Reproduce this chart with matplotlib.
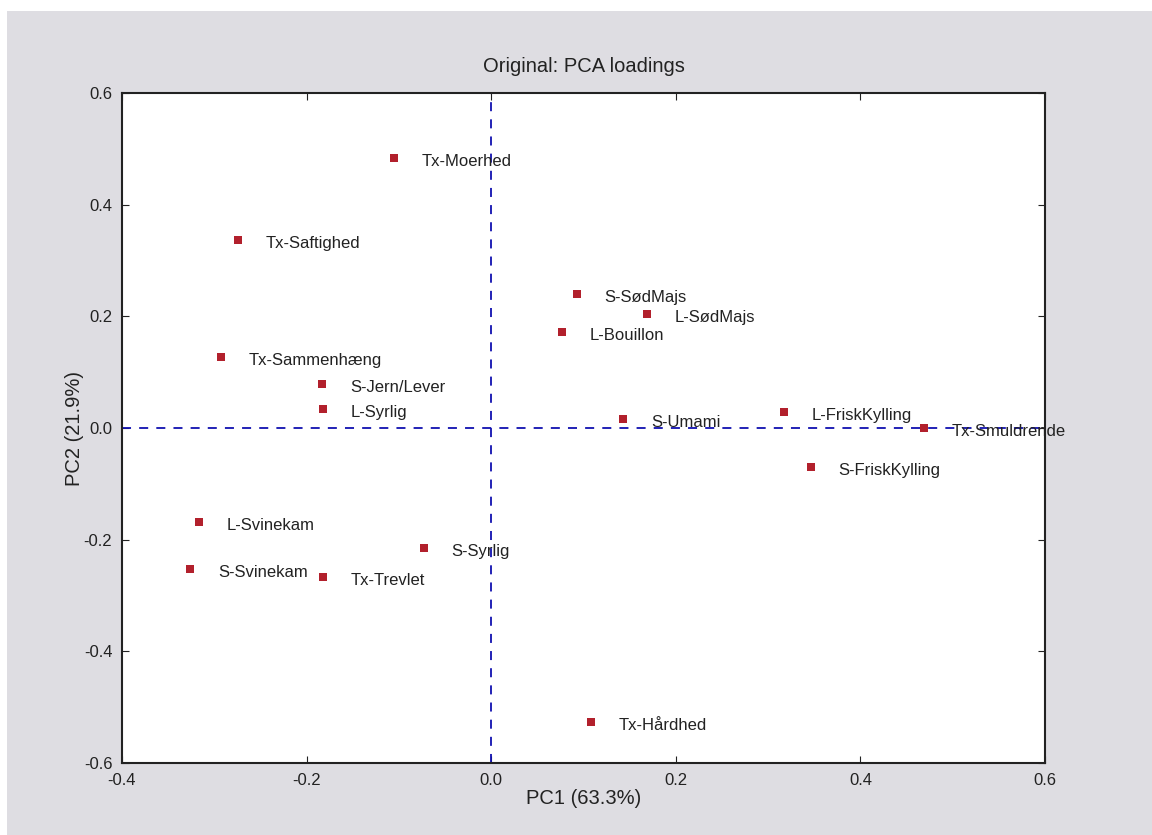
# PCA loadings plot: sensory attributes on PC1 vs PC2.
import matplotlib
matplotlib.use('Agg')
import matplotlib.pyplot as plt
from matplotlib.patches import Rectangle

plt.rcParams['font.family'] = ['Liberation Sans', 'DejaVu Sans']
plt.rcParams['axes.unicode_minus'] = False

attributes = ['Tx-Moerhed', 'Tx-Saftighed', 'S-SødMajs', 'L-SødMajs', 'L-Bouillon',
              'Tx-Sammenhæng', 'S-Jern/Lever', 'L-Syrlig', 'S-Umami', 'L-FriskKylling',
              'Tx-Smuldrende', 'S-FriskKylling', 'L-Svinekam', 'S-Syrlig', 'S-Svinekam',
              'Tx-Trevlet', 'Tx-Hårdhed']
pc1 = [-0.105, -0.274, 0.093, 0.169, 0.077, -0.293, -0.183, -0.182, 0.143, 0.317,
       0.469, 0.346, -0.317, -0.073, -0.326, -0.182, 0.108]
pc2 = [0.484, 0.337, 0.240, 0.204, 0.172, 0.127, 0.079, 0.034, 0.016, 0.029,
       0.000, -0.070, -0.168, -0.215, -0.253, -0.267, -0.527]

fig = plt.figure(figsize=(11.52, 8.35), dpi=100, facecolor='white')
# grey window background, offset from the white border
fig.patches.append(Rectangle((7 / 1152, 0), 1, 1 - 11 / 835, transform=fig.transFigure,
                             facecolor='#dedde2', edgecolor='none', zorder=-10))

ax = fig.add_axes([0.1059, 0.0862, 0.8012, 0.8024])
ax.set_facecolor('white')

ax.plot(pc1, pc2, 's', color='#b2202c', markersize=5.3, markeredgewidth=0, zorder=3)
for name, x, y in zip(attributes, pc1, pc2):
    ax.text(x + 0.03, y - 0.006, name, fontsize=12, va='center', ha='left', color='#222222')

ax.axhline(0, color='#1010b0', linestyle=(0, (5, 4.5)), linewidth=1.3, zorder=2)
ax.axvline(0, color='#1010b0', linestyle=(0, (5, 4.5)), linewidth=1.3, zorder=2)

ax.set_xlim(-0.4, 0.6)
ax.set_ylim(-0.6, 0.6)
ax.set_xticks([-0.4, -0.2, 0.0, 0.2, 0.4, 0.6])
ax.set_yticks([-0.6, -0.4, -0.2, 0.0, 0.2, 0.4, 0.6])
ax.tick_params(direction='in', top=True, right=True, length=5, width=0.8,
               labelsize=12, pad=7, colors='#222222')
for s in ax.spines.values():
    s.set_linewidth(1.5)
    s.set_color('#222222')

ax.set_title('Original: PCA loadings', fontsize=14.5, pad=15, color='#222222')
ax.set_xlabel('PC1 (63.3%)', fontsize=14.5, labelpad=1, color='#222222')
ax.set_ylabel('PC2 (21.9%)', fontsize=14.5, labelpad=0, color='#222222')

fig.savefig('out.png', dpi=100, facecolor=fig.get_facecolor())
